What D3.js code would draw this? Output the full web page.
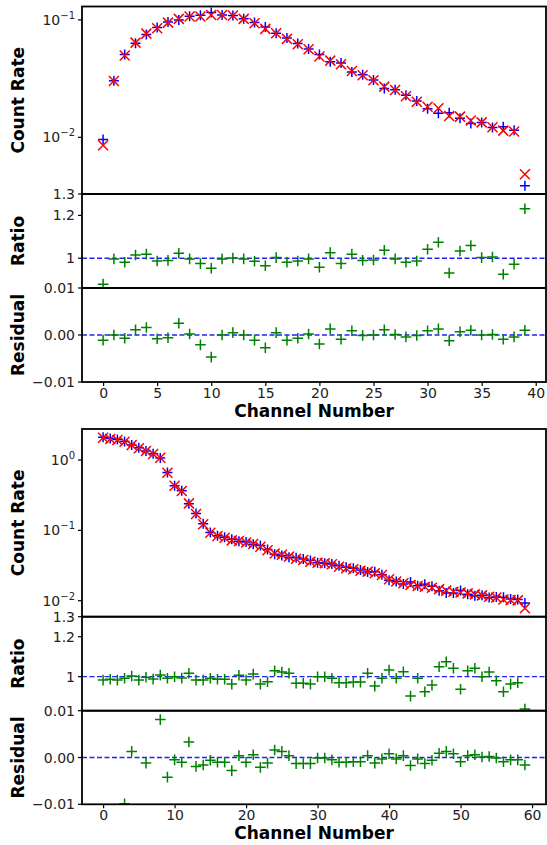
<!DOCTYPE html>
<html>
<head>
<meta charset="utf-8">
<script src="https://cdn.jsdelivr.net/npm/d3@7"></script>
<style>
  body { margin: 0; background: #fff; }
  text { font-family: "DejaVu Sans", sans-serif; }
</style>
</head>
<body>
<script>
// ---- data, upper spectrum (channels 0-39) ----
var countDataA = [0.0096, 0.0303, 0.0506, 0.0631, 0.075, 0.0861, 0.0957, 0.0997, 0.1073, 0.1097,
  0.1154, 0.1103, 0.1089, 0.1023, 0.095, 0.0868, 0.0768, 0.0702, 0.0628, 0.0564,
  0.0508, 0.0439, 0.043, 0.036, 0.0341, 0.0308, 0.026, 0.0254, 0.0228, 0.0204,
  0.0175, 0.016, 0.0162, 0.0145, 0.0131, 0.0134, 0.0121, 0.0123, 0.0115, 0.00386];
var countModelA = [0.00855, 0.0302, 0.0497, 0.064, 0.0764, 0.085, 0.0948, 0.102, 0.107, 0.107,
  0.11, 0.11, 0.109, 0.102, 0.0937, 0.0838, 0.077, 0.0689, 0.062, 0.0562,
  0.0487, 0.045, 0.0419, 0.0367, 0.0338, 0.0306, 0.027, 0.0253, 0.0224, 0.0201,
  0.0182, 0.0177, 0.0152, 0.015, 0.0139, 0.0134, 0.0122, 0.0114, 0.0112, 0.00484];
var ratioA = [0.879, 0.997, 0.981, 1.015, 1.019, 0.987, 0.99, 1.023, 0.997, 0.975,
  0.953, 0.997, 1.001, 0.997, 0.986, 0.965, 1.003, 0.981, 0.987, 0.997,
  0.958, 1.026, 0.975, 1.019, 0.99, 0.992, 1.037, 0.997, 0.981, 0.987,
  1.042, 1.075, 0.931, 1.034, 1.059, 1.003, 1.006, 0.925, 0.972, 1.231];
var residA = [-0.0011, 0.0, -0.0007, 0.0011, 0.0016, -0.0008, -0.0006, 0.0025, 0.0002, -0.0021,
  -0.0047, 0.0, 0.0005, 0.0, -0.0011, -0.0027, 0.0005, -0.0011, -0.0007, 0.0002,
  -0.0019, 0.0013, -0.0009, 0.0009, -0.0001, 0.0, 0.0011, 0.0001, -0.0004, -0.0001,
  0.0009, 0.0013, -0.0012, 0.0007, 0.001, 0.0, 0.0001, -0.0009, -0.0004, 0.001];

// ---- data, lower spectrum (channels 0-59) ----
var countDataB = [2.1, 2.02, 1.95, 1.83, 1.63, 1.5, 1.34, 1.23, 1.07, 0.665,
  0.43, 0.366, 0.238, 0.174, 0.124, 0.093, 0.084, 0.0795, 0.0748, 0.0701,
  0.0682, 0.0632, 0.0608, 0.0533, 0.0456, 0.044, 0.0416, 0.0408, 0.0391, 0.0372,
  0.0347, 0.034, 0.0332, 0.0313, 0.0298, 0.0288, 0.0274, 0.0255, 0.0257, 0.0234,
  0.0196, 0.0188, 0.0173, 0.0185, 0.0163, 0.0171, 0.016, 0.0139, 0.0129, 0.0129,
  0.014, 0.0123, 0.0118, 0.0119, 0.0111, 0.0113, 0.0112, 0.0106, 0.0104, 0.0093];
var countModelB = [2.07, 1.99, 1.92, 1.82, 1.63, 1.47, 1.34, 1.22, 1.08, 0.66,
  0.43, 0.363, 0.242, 0.171, 0.122, 0.0925, 0.083, 0.0785, 0.072, 0.0706,
  0.067, 0.064, 0.0586, 0.052, 0.047, 0.045, 0.0423, 0.0395, 0.0378, 0.0358,
  0.0347, 0.034, 0.0329, 0.0304, 0.0289, 0.028, 0.0267, 0.0259, 0.0245, 0.0232,
  0.0202, 0.0187, 0.0177, 0.0167, 0.0162, 0.0158, 0.0153, 0.0146, 0.0139, 0.0134,
  0.0131, 0.0127, 0.0123, 0.0119, 0.0114, 0.0111, 0.0104, 0.0102, 0.0101, 0.0078];
var ratioB = [0.983, 0.987, 0.983, 0.992, 1.003, 0.983, 0.997, 0.988, 1.008, 0.992,
  1.0, 0.993, 1.017, 0.983, 0.983, 0.992, 0.987, 0.987, 0.963, 1.007,
  0.983, 1.013, 0.963, 0.975, 1.03, 1.023, 1.017, 0.967, 0.967, 0.963,
  1.0, 1.0, 0.992, 0.97, 0.97, 0.973, 0.973, 1.017, 0.953, 0.992,
  1.033, 0.992, 1.025, 0.903, 0.992, 0.925, 0.958, 1.05, 1.075, 1.042,
  0.937, 1.03, 1.042, 1.0, 1.023, 0.98, 0.925, 0.963, 0.97, 0.838];
var residB = [-0.035, -0.03, -0.03, -0.0099, 0.0013, -0.025, -0.0012, -0.015, 0.0081, -0.0042,
  -0.0005, -0.001, 0.0033, -0.0019, -0.0016, -0.0006, -0.001, -0.001, -0.0028, 0.0004,
  -0.001, 0.0006, -0.0021, -0.0012, 0.0016, 0.0013, 0.0004, -0.0013, -0.0013, -0.0013,
  -0.0001, -0.0001, -0.0005, -0.001, -0.001, -0.0009, -0.0009, 0.0004, -0.0012, -0.0003,
  0.0008, -0.0003, 0.0004, -0.0017, -0.0003, -0.0013, -0.0006, 0.0009, 0.0013, 0.0008,
  -0.0009, 0.0004, 0.0006, 0.0001, 0.0002, -0.0001, -0.0009, -0.0005, -0.0005, -0.0016];

var xTicksA = [0, 5, 10, 15, 20, 25, 30, 35, 40];
var xTicksB = [0, 10, 20, 30, 40, 50, 60];
var countTicksA = [-2, -1];
var countTicksB = [-2, -1, 0];
var ratioTicks = [1, 1.2, 1.3];
var ratioTickLabels = ["1", "1.2", "1.3"];
var residTicks = [-0.01, 0, 0.01];
var residTickLabels = ["\u22120.01", "0.00", "0.01"];

var width = 547, height = 845;
var left = 82, right = 546;

var svg = d3.select("body").append("svg")
  .attr("width", width).attr("height", height);

var clipId = 0;

function plusPath(s) { return "M" + (-s) + ",0H" + s + "M0," + (-s) + "V" + s; }
function crossPath(s) { return "M" + (-s) + "," + (-s) + "L" + s + "," + s + "M" + (-s) + "," + s + "L" + s + "," + (-s); }

// markers clipped to one panel
function markers(parent, x, y, xs, ys, path, color, top, bottom) {
  clipId++;
  parent.append("clipPath").attr("id", "c" + clipId)
    .append("rect").attr("x", left).attr("y", top)
    .attr("width", right - left).attr("height", bottom - top);
  parent.append("g").attr("clip-path", "url(#c" + clipId + ")")
    .selectAll("path").data(ys).enter().append("path")
    .attr("transform", function(d, i) { return "translate(" + x(xs[i]) + "," + y(d) + ")"; })
    .attr("d", path)
    .attr("fill", "none")
    .attr("stroke", color)
    .attr("stroke-width", 1.5);
}

function yAxis(parent, y, ticks, labels, sup) {
  var g = parent.append("g");
  ticks.forEach(function(t, i) {
    var v = sup ? Math.pow(10, t) : t;
    var yy = y(v);
    g.append("line").attr("x1", left - 4).attr("x2", left)
      .attr("y1", yy).attr("y2", yy).attr("stroke", "#000").attr("stroke-width", 1.2);
    var txt = g.append("text").attr("x", left - 7).attr("y", yy + 5)
      .attr("text-anchor", "end").attr("font-size", 14).attr("fill", "#222");
    if (sup) {
      txt.append("tspan").text("10");
      txt.append("tspan").attr("dy", -6).attr("font-size", 10)
        .text(t < 0 ? "\u2212" + (-t) : String(t));
    } else {
      txt.text(labels[i]);
    }
  });
}

function frame(parent, top, bottom) {
  parent.append("rect").attr("x", left).attr("y", top)
    .attr("width", right - left).attr("height", bottom - top)
    .attr("fill", "none").attr("stroke", "#000").attr("stroke-width", 1.8);
}

function yLabel(parent, text, cy) {
  parent.append("text")
    .attr("transform", "translate(24," + cy + ") rotate(-90)")
    .attr("text-anchor", "middle").attr("font-size", 17).attr("font-weight", "bold")
    .text(text);
}

function drawGroup(cfg) {
  var g = svg.append("g");
  var chans = d3.range(cfg.countData.length);
  var x = d3.scaleLinear().domain(cfg.xDomain).range([left, right]);

  // count rate panel
  var yc = d3.scaleLog().domain(cfg.countDomain).range([cfg.b1, cfg.top]);
  markers(g, x, yc, chans, cfg.countData, plusPath(5), "#0000ff", cfg.top, cfg.b1);
  markers(g, x, yc, chans, cfg.countModel, crossPath(5), "#ff0000", cfg.top, cfg.b1);

  // ratio panel
  var yr = d3.scaleLinear().domain(cfg.ratioDomain).range([cfg.b2, cfg.b1]);
  g.append("line").attr("x1", left).attr("x2", right)
    .attr("y1", yr(1)).attr("y2", yr(1))
    .attr("stroke", "#2222ff").attr("stroke-width", 1.3).attr("stroke-dasharray", "5,2.5");
  markers(g, x, yr, chans, cfg.ratio, plusPath(5.3), "#008000", cfg.b1, cfg.b2);

  // residual panel
  var ys = d3.scaleLinear().domain([-0.01, 0.01]).range([cfg.bottom, cfg.b2]);
  g.append("line").attr("x1", left).attr("x2", right)
    .attr("y1", ys(0)).attr("y2", ys(0))
    .attr("stroke", "#2222ff").attr("stroke-width", 1.3).attr("stroke-dasharray", "5,2.5");
  markers(g, x, ys, chans, cfg.resid, plusPath(5.3), "#008000", cfg.b2, cfg.bottom);

  frame(g, cfg.top, cfg.b1);
  frame(g, cfg.b1, cfg.b2);
  frame(g, cfg.b2, cfg.bottom);

  yAxis(g, yc, cfg.countTicks, null, true);
  yAxis(g, yr, ratioTicks, ratioTickLabels, false);
  yAxis(g, ys, residTicks, residTickLabels, false);

  // x axis
  var xa = g.append("g").attr("transform", "translate(0," + cfg.bottom + ")")
    .call(d3.axisBottom(x).tickValues(cfg.xTicks).tickSize(4).tickPadding(2));
  xa.select(".domain").remove();
  xa.selectAll("line").attr("stroke-width", 1.2);
  xa.selectAll("text").attr("font-size", 14).attr("fill", "#222")
    .attr("font-family", "DejaVu Sans");

  g.append("text").attr("x", (left + right) / 2).attr("y", cfg.bottom + 35)
    .attr("text-anchor", "middle").attr("font-size", 17).attr("font-weight", "bold")
    .text("Channel Number");

  yLabel(g, "Count Rate", (cfg.top + cfg.b1) / 2);
  yLabel(g, "Ratio", (cfg.b1 + cfg.b2) / 2);
  yLabel(g, "Residual", (cfg.b2 + cfg.bottom) / 2);
}

drawGroup({
  top: 6.5, b1: 194, b2: 288, bottom: 382,
  xDomain: [-1.95, 40.95], xTicks: xTicksA,
  countDomain: [0.00329, 0.130], countTicks: countTicksA,
  ratioDomain: [0.861, 1.3],
  countData: countDataA, countModel: countModelA, ratio: ratioA, resid: residA
});

drawGroup({
  top: 429, b1: 616.7, b2: 710.7, bottom: 804.3,
  xDomain: [-2.95, 61.95], xTicks: xTicksB,
  countDomain: [0.00592, 2.76], countTicks: countTicksB,
  ratioDomain: [0.83, 1.3],
  countData: countDataB, countModel: countModelB, ratio: ratioB, resid: residB
});
</script>
</body>
</html>
